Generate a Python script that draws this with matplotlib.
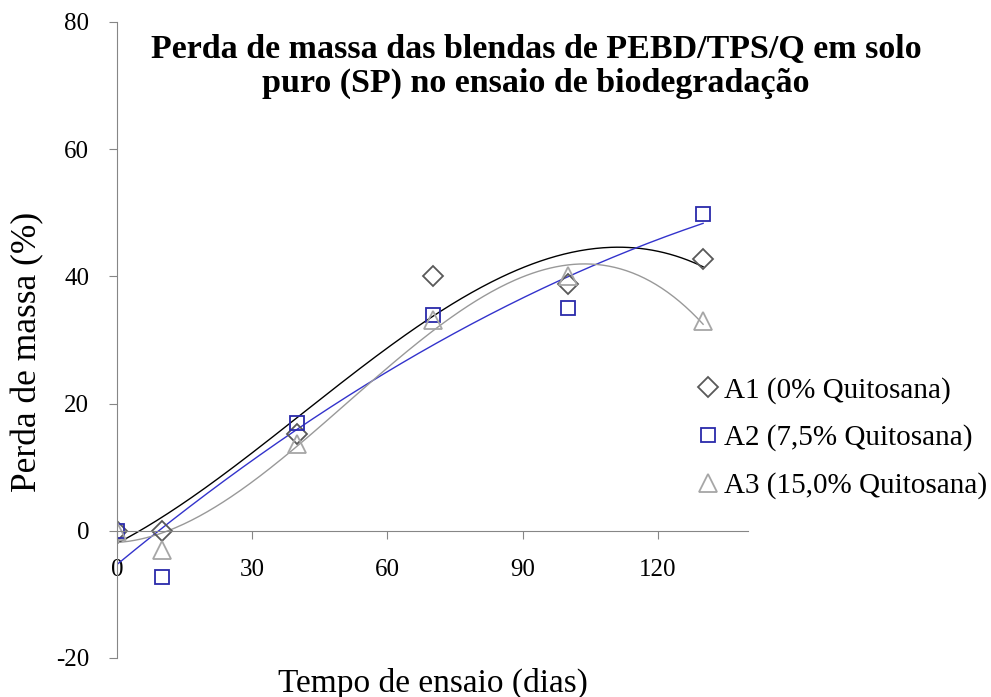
import numpy as np
import matplotlib.pyplot as plt

plt.rcParams['font.family'] = ['Liberation Serif', 'DejaVu Serif']
plt.rcParams['axes.unicode_minus'] = False

# tempo de ensaio (dias)
dias = [0, 10, 40, 70, 100, 130]
# perda de massa (%)
a1 = [0, 0, 15.2, 40, 38.8, 42.8]
a2 = [0, -7.3, 17, 34, 35, 49.8]
a3 = [0, -3, 13.6, 33.2, 40, 33]
labels = ['A1 (0% Quitosana)', 'A2 (7,5% Quitosana)', 'A3 (15,0% Quitosana)']

fig = plt.figure(figsize=(9.91, 6.97), dpi=100)
ax = fig.add_axes([0.118, 0.056, 0.637, 0.9125])

xx = np.linspace(0, 130, 300)
# linhas de tendência (polinomiais)
ax.plot(xx, np.polyval(np.polyfit(dias, a1, 3), xx), color='#000000', lw=1)
ax.plot(xx, np.polyval(np.polyfit(dias, a2, 2), xx), color='#3333cc', lw=1)
ax.plot(xx, np.polyval(np.polyfit(dias, a3, 3), xx), color='#999999', lw=1)

ax.plot(dias, a1, 'D', ms=10, mfc='none', mec='#595959', mew=1.3, label=labels[0])
ax.plot(dias, a2, 's', ms=10, mfc='none', mec='#2a2aaa', mew=1.3, label=labels[1])
ax.plot(dias, a3, '^', ms=13, mfc='none', mec='#a6a6a6', mew=1.3, label=labels[2])

ax.set_xlim(0, 140)
ax.set_ylim(-20, 80)
ax.set_xticks([0, 30, 60, 90, 120])
ax.set_yticks([-20, 0, 20, 40, 60, 80])
ax.spines['top'].set_visible(False)
ax.spines['right'].set_visible(False)
ax.spines['bottom'].set_position(('data', 0))
for s in ['left', 'bottom']:
    ax.spines[s].set_color('#868686')
ax.tick_params(direction='out', length=6, color='#868686', labelsize=18, pad=14)
ax.set_facecolor('none')

fig.text(0.437, 0.02, 'Tempo de ensaio (dias)', ha='center', va='center', fontsize=24)
fig.text(0.028, 0.495, 'Perda de massa (%)', ha='center', va='center', rotation=90, fontsize=25.5)
fig.text(0.541, 0.905, 'Perda de massa das blendas de PEBD/TPS/Q em solo\npuro (SP) no ensaio de biodegradação',
         ha='center', va='center', fontsize=24.5, fontweight='bold', linespacing=1.12)

fig.legend(loc='center left', bbox_to_anchor=(0.686, 0.3716), frameon=False, fontsize=21,
           handletextpad=0.1, handlelength=0.9, labelspacing=0.72, borderpad=0)

fig.savefig('out.png', dpi=100)
